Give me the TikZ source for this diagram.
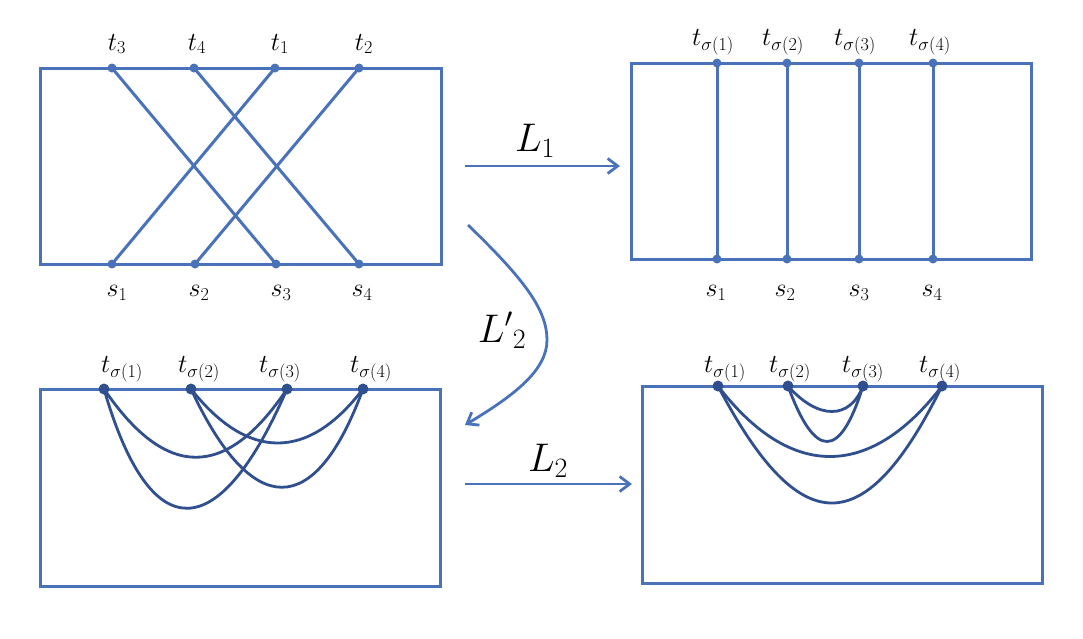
\RequirePackage{fix-cm}
\documentclass[tikz,border=0pt]{standalone}
\usetikzlibrary{arrows.meta}
\definecolor{lineblue}{HTML}{4A72BA}
\definecolor{darkblue}{HTML}{2F4F8F}
\tikzset{
  boxline/.style={draw=lineblue, line width=3pt},
  chord/.style={draw=lineblue, line width=3pt},
  arc2/.style={draw=darkblue, line width=2.8pt},
  pdot/.style={fill=lineblue},
  ddot/.style={fill=darkblue},
  lab/.style={font=\fontsize{26}{30}\selectfont, inner sep=0pt},
  biglab/.style={font=\fontsize{40}{46}\selectfont, inner sep=0pt},
  maparrow/.style={draw=lineblue, line width=2.8pt, -{Straight Barb[length=10pt,width=15pt,line width=2.8pt]}}
}
\begin{document}
\begin{tikzpicture}[x=1pt,y=-1pt]
\useasboundingbox (0,0) rectangle (1083,638);
% ---------- top left ----------
\draw[boxline] (40,68) rectangle (441,264);
\foreach \n/\x in {A3/112,A4/194,A1/275,A2/359}{\coordinate (\n) at (\x,68);}
\foreach \n/\x in {B1/112,B2/195,B3/276,B4/359}{\coordinate (\n) at (\x,264);}
\draw[chord] (A3) -- (B3);
\draw[chord] (A4) -- (B4);
\draw[chord] (A1) -- (B1);
\draw[chord] (A2) -- (B2);
\foreach \n in {A1,A2,A3,A4,B1,B2,B3,B4}{\fill[pdot] (\n) circle (4.5pt);}
\node[lab] (lA3) at (117,44) {$t_3$};
\node[lab] (lA4) at (197,44) {$t_4$};
\node[lab] (lA1) at (280,44) {$t_1$};
\node[lab] (lA2) at (364,44) {$t_2$};
\node[lab] (lB1) at (117,293) {$s_1$};
\node[lab] (lB2) at (199,293) {$s_2$};
\node[lab] (lB3) at (281,293) {$s_3$};
\node[lab] (lB4) at (362,293) {$s_4$};
% ---------- top right ----------
\draw[boxline] (631,63) rectangle (1031,259);
\foreach \n/\x in {C1/717,C2/787,C3/859,C4/933}{\coordinate (\n) at (\x,63); \coordinate (\n b) at (\x,259);}
\foreach \n in {C1,C2,C3,C4}{\draw[chord] (\n) -- (\n b); \fill[pdot] (\n) circle (4.5pt); \fill[pdot] (\n b) circle (4.5pt);}
\node[lab] (lC1) at (713,42) {$t_{\sigma(1)}$};
\node[lab] (lC2) at (783,42) {$t_{\sigma(2)}$};
\node[lab] (lC3) at (855,42) {$t_{\sigma(3)}$};
\node[lab] (lC4) at (930,42) {$t_{\sigma(4)}$};
\node[lab] (lD1) at (716,293) {$s_1$};
\node[lab] (lD2) at (785,293) {$s_2$};
\node[lab] (lD3) at (859,293) {$s_3$};
\node[lab] (lD4) at (932,293) {$s_4$};
% ---------- bottom left ----------
\draw[boxline] (40,389) rectangle (440,586);
\coordinate (E1) at (104,389);
\coordinate (E2) at (191,389);
\coordinate (E3) at (287,389);
\coordinate (E4) at (363,389);
\draw[arc2] (E1) .. controls (166,480) and (226,480) .. (E3);
\draw[arc2] (E1) .. controls (150,548) and (218,548) .. (E3);
\draw[arc2] (E2) .. controls (248,461) and (308,461) .. (E4);
\draw[arc2] (E2) .. controls (252,520) and (315,520) .. (E4);
\foreach \n in {E1,E2,E3,E4}{\fill[ddot] (\n) circle (5.5pt);}
\node[lab] (lE1) at (122,369) {$t_{\sigma(1)}$};
\node[lab] (lE2) at (199,369) {$t_{\sigma(2)}$};
\node[lab] (lE3) at (280,369) {$t_{\sigma(3)}$};
\node[lab] (lE4) at (371,369) {$t_{\sigma(4)}$};
% ---------- bottom right ----------
\draw[boxline] (642,386) rectangle (1042,583);
\coordinate (F1) at (718,386);
\coordinate (F2) at (788,386);
\coordinate (F3) at (863,386);
\coordinate (F4) at (942,386);
\draw[arc2] (F2) .. controls (818,420) and (850,420) .. (F3);
\draw[arc2] (F2) .. controls (815,460) and (840,460) .. (F3);
\draw[arc2] (F1) .. controls (790,480) and (870,480) .. (F4);
\draw[arc2] (F1) .. controls (800,542) and (865,542) .. (F4);
\foreach \n in {F1,F2,F3,F4}{\fill[ddot] (\n) circle (5.5pt);}
\node[lab] (lF1) at (725,369) {$t_{\sigma(1)}$};
\node[lab] (lF2) at (790,369) {$t_{\sigma(2)}$};
\node[lab] (lF3) at (863,369) {$t_{\sigma(3)}$};
\node[lab] (lF4) at (940,369) {$t_{\sigma(4)}$};
% ---------- arrows ----------
\coordinate (L1s) at (465,166);
\coordinate (L1e) at (620,166);
\draw[maparrow] (L1s) -- (L1e);
\node[biglab] (lL1) at (535,141) {$L_1$};
\coordinate (L2s) at (465,484);
\coordinate (L2e) at (632,484);
\draw[maparrow] (L2s) -- (L2e);
\node[biglab] (lL2) at (548,461) {$L_2$};
\coordinate (Ps) at (468,225);
\coordinate (Pt) at (547,340);
\coordinate (Pe) at (465,425);
\draw[maparrow] (Ps) .. controls (525,280) and (547,310) .. (Pt) .. controls (547,370) and (515,395) .. (Pe);
\node[biglab] (lP) at (502,330) {${L'}_2$};
\end{tikzpicture}
\end{document}
